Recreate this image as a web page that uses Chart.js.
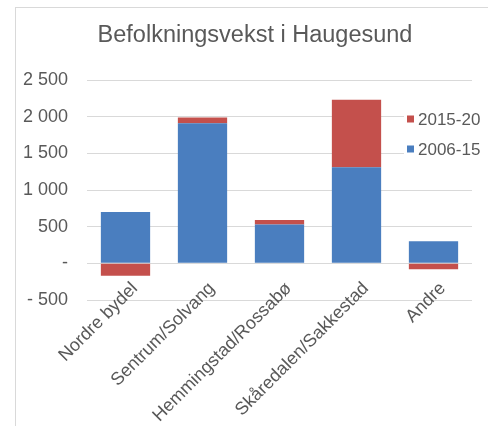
<!DOCTYPE html>
<html>
<head>
<meta charset="utf-8">
<script src="https://cdn.jsdelivr.net/npm/chart.js@4"></script>
<style>
  html, body { margin: 0; padding: 0; background: #fff; overflow: hidden; }
  #frame { position: absolute; left: 15px; top: 7px; width: 500px; height: 450px; border: 1px solid #d9d9d9; }
  #wrap { position: absolute; left: 0; top: 0; width: 488px; height: 426px; }
</style>
</head>
<body>
<div id="frame"></div>
<div id="wrap"><canvas id="chart"></canvas></div>
<script>
// Data
const districts = ['Nordre bydel', 'Sentrum/Solvang', 'Hemmingstad/Rossabø', 'Skåredalen/Sakkestad', 'Andre'];
const growth2006_15 = [700, 1910, 530, 1310, 300];
const growth2015_20 = [-170, 80, 60, 920, -80];
const yTicks = [-500, 0, 500, 1000, 1500, 2000, 2500];
const chartTitle = 'Befolkningsvekst i Haugesund';

const textGrey = '#595959';
const font = 'Arial, "Liberation Sans", sans-serif';

function fmt(v) {
    if (v === 0) return '-';
    const s = Math.abs(v).toString().replace(/\B(?=(\d{3})+(?!\d))/g, ' ');
    return v < 0 ? '- ' + s : s;
}

// title centred on the frame, not on the canvas
const frameTitle = {
    id: 'frameTitle',
    afterDraw(chart) {
        const ctx = chart.ctx;
        ctx.save();
        ctx.font = '23.5px ' + font;
        ctx.fillStyle = textGrey;
        ctx.textAlign = 'center';
        ctx.textBaseline = 'middle';
        ctx.fillText(chartTitle, 255, 36);
        ctx.restore();
    }
};

// category labels hang from the zero line like in Excel, so they overlap the negative area
const axisLabels = {
    id: 'axisLabels',
    afterDraw(chart) {
        const ctx = chart.ctx;
        const x = chart.scales.x;
        const y = chart.scales.y;
        const top = y.getPixelForValue(0) + 16;
        ctx.save();
        ctx.font = '18px ' + font;
        ctx.fillStyle = textGrey;
        ctx.textAlign = 'right';
        ctx.textBaseline = 'top';
        districts.forEach((name, i) => {
            ctx.save();
            ctx.translate(x.getPixelForValue(i) + 3, top);
            ctx.rotate(-Math.PI / 4);
            ctx.fillText(name, 0, 0);
            ctx.restore();
        });
        ctx.restore();
    }
};

// legend drawn over the plot on the right, reversed order like Excel
const sideLegend = {
    id: 'sideLegend',
    afterDraw(chart) {
        const ctx = chart.ctx;
        const items = chart.data.datasets.slice().reverse();
        ctx.save();
        ctx.font = '17px ' + font;
        ctx.textBaseline = 'middle';
        let y = 119;
        items.forEach(ds => {
            ctx.fillStyle = '#fff';
            ctx.fillRect(404, y - 10, 84, 20);
            ctx.fillStyle = ds.backgroundColor;
            ctx.fillRect(407, y - 3.5, 7, 7);
            ctx.fillStyle = textGrey;
            ctx.fillText(ds.label, 418, y + 1);
            y += 30;
        });
        ctx.restore();
    }
};

new Chart(document.getElementById('chart'), {
    type: 'bar',
    data: {
        labels: districts,
        datasets: [{
            label: '2006-15',
            data: growth2006_15,
            backgroundColor: '#4a7ebf'
        }, {
            label: '2015-20',
            data: growth2015_20,
            backgroundColor: '#c4504c'
        }]
    },
    options: {
        responsive: true,
        maintainAspectRatio: false,
        animation: false,
        layout: { padding: { left: 0, right: 16, top: 80, bottom: 0 } },
        datasets: { bar: { barPercentage: 0.64, categoryPercentage: 1 } },
        plugins: {
            legend: { display: false },
            tooltip: { enabled: false },
            title: { display: false }
        },
        scales: {
            x: {
                stacked: true,
                grid: { display: false, drawTicks: false },
                border: { display: false },
                ticks: { display: false },
                afterFit(scale) { scale.height = 126; }
            },
            y: {
                stacked: true,
                min: -500,
                max: 2500,
                afterBuildTicks(scale) { scale.ticks = yTicks.map(v => ({ value: v })); },
                grid: { color: '#d9d9d9', lineWidth: 1, drawTicks: false },
                border: { display: false },
                ticks: {
                    color: textGrey,
                    font: { family: font, size: 18 },
                    padding: 19,
                    callback: v => fmt(v)
                },
                afterFit(scale) { scale.width = 87; }
            }
        }
    },
    plugins: [sideLegend, frameTitle, axisLabels]
});
</script>
</body>
</html>
